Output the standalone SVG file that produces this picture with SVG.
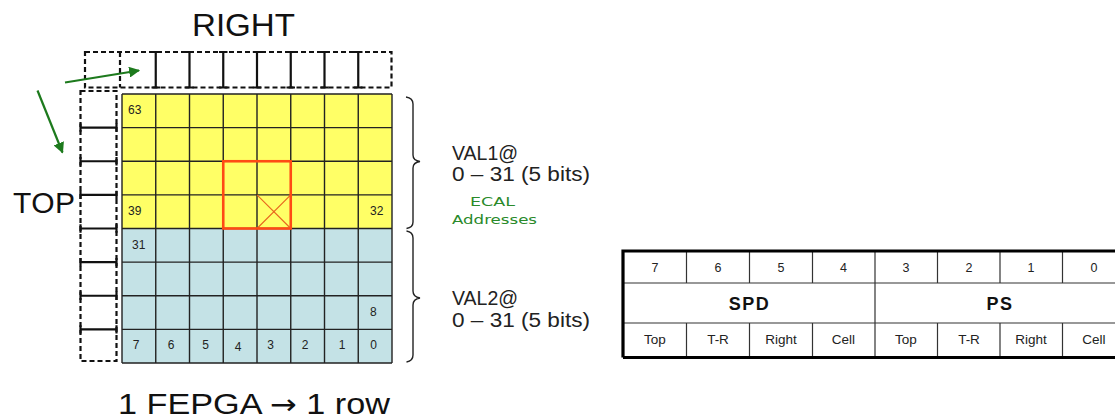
<svg xmlns="http://www.w3.org/2000/svg" width="1115" height="420" viewBox="0 0 1115 420">
<style>
  .lbl { font-family: "Liberation Sans", Arial, sans-serif; fill: #111; }
  .big { font-size: 30px; }
  .val { font-size: 20px; fill: #222; }
  .grn { font-family: "DejaVu Sans", "Liberation Sans", sans-serif; font-size: 12.5px; fill: #2a8a2a; }
  .num { font-size: 12px; fill: #222; }
  .tnum { font-size: 12.5px; fill: #222; text-anchor: middle; }
  .tsub { font-size: 13.5px; fill: #222; text-anchor: middle; }
  .tbold { font-size: 18px; font-weight: bold; fill: #111; text-anchor: middle; letter-spacing: 1.5px; }
  .gl { stroke: #222; stroke-width: 1.4; fill: none; }
  .dash { stroke: #111; stroke-width: 2.2; fill: none; stroke-dasharray: 5 3; }
  .ibar { stroke: #111; stroke-width: 2.2; fill: none; }
  .tl { stroke: #333; stroke-width: 1.2; fill: none; }
  .arr { stroke: #1d7a1d; stroke-width: 2.2; fill: none; }
</style>
<defs>
  <marker id="ah" viewBox="0 0 10 10" refX="9" refY="5" markerWidth="5" markerHeight="5" orient="auto" markerUnits="strokeWidth">
    <path d="M0,0 L10,5 L0,10 z" fill="#1d7a1d"/>
  </marker>
</defs>
<rect width="1115" height="420" fill="#ffffff"/>

<g id="title-right"><text class="lbl" font-size="31" x="192" y="36" textLength="103" lengthAdjust="spacingAndGlyphs">RIGHT</text></g>
<g id="title-top"><text class="lbl big" x="13" y="213" textLength="62" lengthAdjust="spacing">TOP</text></g>
<g id="caption"><text class="lbl" font-size="30" x="118" y="414" textLength="272" lengthAdjust="spacingAndGlyphs">1 FEPGA <tspan font-family="'DejaVu Sans', sans-serif" font-size="28">→</tspan> 1 row</text></g>

<g id="right-strip">
  <rect class="dash" x="85" y="52" width="306.5" height="35.5"/>
  <line class="dash" x1="120" y1="52" x2="120" y2="87.5"/>
  <path class="ibar" d="M155.75,52 V87.5 M151.5,52 H160 M151.5,87.5 H160
                        M189.5,52 V87.5 M185.3,52 H193.7 M185.3,87.5 H193.7
                        M223.25,52 V87.5 M219,52 H227.5 M219,87.5 H227.5
                        M257,52 V87.5 M252.8,52 H261.2 M252.8,87.5 H261.2
                        M290.75,52 V87.5 M286.5,52 H295 M286.5,87.5 H295
                        M324.5,52 V87.5 M320.3,52 H328.7 M320.3,87.5 H328.7
                        M358.25,52 V87.5 M354,52 H362.5 M354,87.5 H362.5"/>
</g>

<g id="top-strip">
  <rect class="dash" x="80.5" y="91" width="36" height="270"/>
  <path class="ibar" d="M80.5,127.6 H116.5 M80.5,123.5 V131.7 M116.5,123.5 V131.7
                        M80.5,161.25 H116.5 M80.5,157 V165.5 M116.5,157 V165.5
                        M80.5,194.9 H116.5 M80.5,190.7 V199.1 M116.5,190.7 V199.1
                        M80.5,228.5 H116.5 M80.5,224.3 V232.7 M116.5,224.3 V232.7
                        M80.5,262.1 H116.5 M80.5,257.9 V266.3 M116.5,257.9 V266.3
                        M80.5,295.75 H116.5 M80.5,291.5 V300 M116.5,291.5 V300
                        M80.5,329.4 H116.5 M80.5,325.2 V333.6 M116.5,325.2 V333.6"/>
</g>

<g id="grid">
  <rect x="122" y="94" width="270" height="134.5" fill="#ffff66"/>
  <rect x="122" y="228.5" width="270" height="134.5" fill="#c4e2e6"/>
  <path class="gl" d="M122,94 V363 M155.75,94 V363 M189.5,94 V363 M223.25,94 V363 M257,94 V363 M290.75,94 V363 M324.5,94 V363 M358.25,94 V363 M392,94 V363
                      M122,94 H392 M122,127.6 H392 M122,161.25 H392 M122,194.9 H392 M122,228.5 H392 M122,262.1 H392 M122,295.75 H392 M122,329.4 H392 M122,363 H392"/>
  <path d="M257,194.9 L290.75,228.5 M290.75,194.9 L257,228.5" stroke="#e8661e" stroke-width="1.1" fill="none"/>
  <rect x="223.25" y="161.25" width="67.5" height="67.25" fill="none" stroke="#ff4a14" stroke-width="2.6"/>
  <text class="lbl num" x="128" y="114">63</text>
  <text class="lbl num" x="128" y="215">39</text>
  <text class="lbl num" x="370" y="215">32</text>
  <text class="lbl num" x="132" y="248.5">31</text>
  <text class="lbl num" x="370" y="316">8</text>
  <g class="lbl num" text-anchor="middle">
    <text x="136" y="349">7</text>
    <text x="171" y="349">6</text>
    <text x="205.5" y="349">5</text>
    <text x="238" y="351">4</text>
    <text x="270.5" y="349">3</text>
    <text x="305" y="349">2</text>
    <text x="342" y="349">1</text>
    <text x="373.5" y="349">0</text>
  </g>
</g>

<g id="connectors">
  <line class="arr" x1="65" y1="82.5" x2="139" y2="70.5" marker-end="url(#ah)"/>
  <line class="arr" x1="37.5" y1="90.5" x2="62.5" y2="152.5" marker-end="url(#ah)"/>
  <path d="M406,97 Q413,98 413,104 V155 Q413,160.5 420,161.5 Q413,162.5 413,168 V222 Q413,227.5 406.5,228.5" stroke="#222" stroke-width="1.4" fill="none"/>
  <path d="M406.5,231 Q413,232 413,238 V291 Q413,297 420,298 Q413,299 413,305 V355 Q413,361 406.5,362" stroke="#222" stroke-width="1.4" fill="none"/>
</g>

<g id="val1">
  <text class="lbl val" x="452" y="160" textLength="66" lengthAdjust="spacingAndGlyphs">VAL1@</text>
  <text class="lbl val" x="452" y="181" textLength="138" lengthAdjust="spacingAndGlyphs">0 – 31 (5 bits)</text>
</g>
<g id="ecal">
  <text class="grn" x="470" y="206" textLength="45" lengthAdjust="spacingAndGlyphs">ECAL</text>
  <text class="grn" x="452" y="224" textLength="85" lengthAdjust="spacingAndGlyphs">Addresses</text>
</g>
<g id="val2">
  <text class="lbl val" x="452" y="305" textLength="66" lengthAdjust="spacingAndGlyphs">VAL2@</text>
  <text class="lbl val" x="452" y="327" textLength="138" lengthAdjust="spacingAndGlyphs">0 – 31 (5 bits)</text>
</g>

<g id="bit-table">
  <rect x="624" y="252" width="520" height="104" fill="#ffffff"/>
  <path class="tl" d="M686.5,252 V283 M749.5,252 V283 M812.5,252 V283 M937.5,252 V283 M1000,252 V283 M1062.5,252 V283
                      M875,252 V356
                      M686.5,323 V356 M749.5,323 V356 M812.5,323 V356 M937.5,323 V356 M1000,323 V356 M1062.5,323 V356
                      M624,283 H1125 M624,323 H1125"/>
  <path d="M623,357.5 V251 H1125 M623,357.5 H1125" stroke="#000" stroke-width="3.2" fill="none"/>
  <g class="lbl tnum">
    <text x="655" y="272">7</text>
    <text x="718" y="272">6</text>
    <text x="781" y="272">5</text>
    <text x="843.5" y="272">4</text>
    <text x="906" y="272">3</text>
    <text x="969" y="272">2</text>
    <text x="1031" y="272">1</text>
    <text x="1094" y="272">0</text>
  </g>
  <text class="lbl tbold" x="749.5" y="310">SPD</text>
  <text class="lbl tbold" x="1000" y="310">PS</text>
  <g class="lbl tsub">
    <text x="655" y="344">Top</text>
    <text x="718" y="344">T-R</text>
    <text x="781" y="344">Right</text>
    <text x="843.5" y="344">Cell</text>
    <text x="906" y="344">Top</text>
    <text x="969" y="344">T-R</text>
    <text x="1031" y="344">Right</text>
    <text x="1094" y="344">Cell</text>
  </g>
</g>
</svg>
